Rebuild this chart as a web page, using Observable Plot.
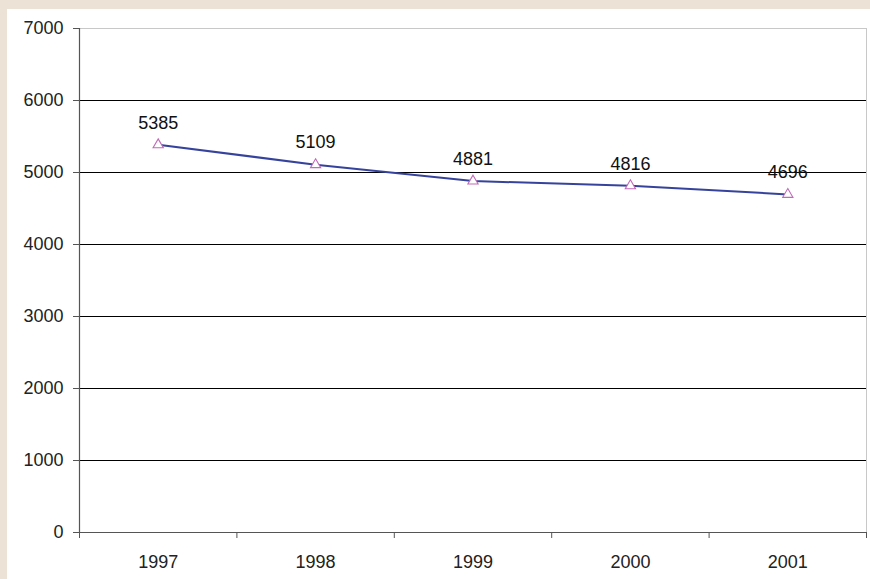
<!DOCTYPE html>
<html>
<head>
<meta charset="utf-8">
<script src="https://cdn.jsdelivr.net/npm/d3@7"></script>
<script src="https://cdn.jsdelivr.net/npm/@observablehq/plot@0.6"></script>
<style>
  html, body { margin: 0; padding: 0; }
  body { width: 870px; height: 579px; background: #ece2d5; overflow: hidden; }
  #wrap { position: absolute; left: 7px; top: 9px; width: 863px; height: 570px; background: #ffffff; }
  svg { display: block; }
</style>
</head>
<body>
<div id="wrap"></div>
<script>
const years = [1997, 1998, 1999, 2000, 2001];
const values = [5385, 5109, 4881, 4816, 4696];
const yTicks = [0, 1000, 2000, 3000, 4000, 5000, 6000, 7000];
const blackGrid = [1000, 2000, 3000, 4000, 5000, 6000];
const topGrid = [7000];
const bandEdges = [1996.5, 1997.5, 1998.5, 1999.5, 2000.5, 2001.5];

const data = years.map((year, i) => ({year, value: values[i]}));

const chart = Plot.plot({
  width: 863,
  height: 570,
  marginLeft: 72,
  marginRight: 4,
  marginTop: 19,
  marginBottom: 47,
  style: {fontFamily: "'Liberation Sans', Arial, sans-serif", fontSize: "18px", color: "#222", background: "#ffffff"},
  x: {domain: [1996.5, 2001.5], axis: null},
  y: {domain: [0, 7000], axis: null},
  marks: [
    Plot.ruleY(blackGrid, {stroke: "#000", strokeWidth: 1}),
    Plot.ruleY(topGrid, {stroke: "#c8c8c8", strokeWidth: 1}),
    Plot.ruleX([2001.5], {stroke: "#c8c8c8", strokeWidth: 1}),
    Plot.axisY({ticks: yTicks, label: null, tickSize: 6, tickPadding: 10, tickFormat: d => String(d), stroke: "#555", fontSize: 18, fill: "#222"}),
    Plot.axisX({ticks: bandEdges, label: null, tickSize: 6, tickFormat: () => "", stroke: "#555"}),
    Plot.axisX({ticks: years, label: null, tickSize: 0, tickPadding: 23, tickFormat: d => String(d), fontSize: 18, fill: "#222"}),
    Plot.ruleX([1996.5], {stroke: "#555", strokeWidth: 1.2}),
    Plot.ruleY([0], {stroke: "#555", strokeWidth: 1.2}),
    Plot.lineY(data, {x: "year", y: "value", stroke: "#35439c", strokeWidth: 2}),
    Plot.dot(data, {x: "year", y: "value", symbol: "triangle", r: 3.8, stroke: "#c06ab8", fill: "#fff", strokeWidth: 1.1}),
    Plot.text(data, {x: "year", y: "value", text: d => String(d.value), dy: -22, fontSize: 18, fill: "#111"})
  ]
});
document.getElementById("wrap").appendChild(chart);
</script>
</body>
</html>
